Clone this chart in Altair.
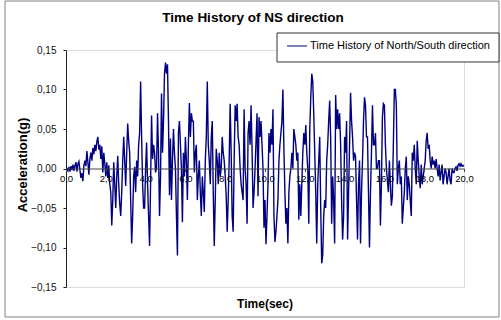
import altair as alt
import pandas as pd

# ---------------- data ----------------
dt = 0.05  # sample step of the record, seconds
accel = [
    0.000, 0.000, -0.003, 0.002, -0.004, 0.003, -0.002, 0.005, -0.003, 0.004,
    0.008, -0.004, 0.006, 0.009, -0.002, -0.012, -0.006, -0.016, 0.004, 0.010,
    0.003, 0.022, 0.008, -0.008, 0.012, 0.020, 0.010, 0.026, 0.018, 0.030,
    0.022, 0.034, 0.040, 0.024, 0.030, 0.012, 0.028, -0.005, 0.020, 0.006,
    -0.010, 0.008, -0.012, 0.004, -0.020, -0.030, -0.072, -0.040, 0.008, -0.020,
    -0.050, -0.010, 0.016, -0.020, -0.045, -0.060, -0.030, 0.010, 0.040, 0.010,
    -0.022, 0.020, 0.057, 0.035, 0.020, -0.040, -0.095, -0.060, -0.010, 0.002,
    -0.030, 0.010, -0.010, 0.030, 0.045, 0.110, 0.040, -0.020, -0.050, -0.050,
    0.000, 0.033, -0.020, -0.060, -0.098, -0.020, 0.067, 0.012, 0.030, 0.020,
    -0.005, 0.000, 0.070, 0.020, -0.060, -0.010, 0.095, 0.020, 0.060, 0.120,
    0.134, 0.120, 0.132, 0.060, -0.034, 0.038, -0.040, 0.010, 0.050, 0.020,
    0.000, -0.060, -0.110, 0.045, 0.060, 0.030, 0.000, -0.068, 0.020, -0.010,
    0.040, 0.010, -0.040, 0.030, 0.083, 0.040, 0.070, 0.060, 0.060, -0.005,
    0.020, 0.030, -0.040, -0.010, 0.010, -0.030, -0.060, -0.010, -0.030, -0.055,
    0.010, 0.040, 0.110, 0.030, 0.010, -0.020, 0.040, 0.060, -0.030, -0.098,
    -0.040, 0.025, 0.010, -0.020, 0.020, -0.010, 0.000, 0.040, 0.020, 0.010,
    -0.010, -0.035, -0.080, -0.040, 0.010, 0.082, 0.020, -0.060, -0.080, 0.010,
    0.080, 0.060, 0.082, 0.040, 0.030, 0.000, -0.020, -0.030, -0.040, 0.075,
    0.000, -0.020, -0.070, 0.045, 0.060, 0.030, 0.080, 0.025, -0.050, -0.030,
    0.000, 0.035, 0.070, -0.035, 0.065, 0.040, 0.060, 0.030, 0.000, -0.075,
    -0.040, -0.096, -0.060, -0.020, 0.045, 0.020, 0.050, 0.030, 0.075, -0.060,
    -0.093, -0.080, -0.060, -0.040, 0.010, 0.030, 0.045, 0.060, 0.100, 0.025,
    -0.030, -0.070, -0.050, -0.095, -0.030, -0.010, 0.000, 0.020, 0.000, 0.050,
    0.040, 0.030, 0.010, 0.020, -0.065, -0.020, -0.060, -0.020, 0.020, 0.045,
    0.030, 0.055, 0.020, 0.000, -0.070, 0.050, 0.090, 0.120, 0.110, 0.070,
    0.020, -0.030, -0.095, -0.020, 0.010, 0.040, -0.050, -0.120, -0.110, -0.060,
    -0.040, -0.050, 0.010, 0.030, 0.060, 0.086, 0.040, -0.070, -0.010, -0.040,
    -0.095, 0.093, 0.050, 0.075, 0.050, 0.070, 0.030, -0.040, -0.090, -0.060,
    0.040, 0.020, 0.060, -0.090, -0.030, 0.030, 0.096, 0.060, 0.040, 0.010,
    0.020, 0.015, -0.040, -0.090, -0.020, 0.010, -0.095, -0.030, 0.010, 0.060,
    0.090, 0.080, 0.040, 0.040, -0.030, -0.100, -0.030, 0.020, 0.080, 0.030,
    0.030, 0.045, 0.000, 0.000, 0.010, 0.010, -0.072, -0.020, 0.065, 0.082,
    0.080, 0.030, 0.000, -0.015, -0.030, 0.010, -0.020, -0.047, -0.035, 0.030,
    0.100, 0.100, 0.080, -0.020, 0.000, 0.010, -0.020, -0.010, -0.070, -0.050,
    -0.030, 0.000, 0.015, -0.040, -0.010, -0.020, -0.040, -0.060, 0.020, 0.010,
    0.030, 0.000, -0.020, 0.035, 0.010, -0.010, -0.025, 0.005, -0.020, -0.010,
    0.000, 0.010, 0.035, 0.045, 0.025, 0.030, 0.010, 0.000, 0.015, 0.005,
    0.010, 0.000, 0.012, 0.000, -0.010, 0.005, -0.015, -0.005, 0.005, -0.020,
    -0.010, 0.000, -0.005, -0.020, -0.010, 0.000, -0.015, -0.020, 0.000, -0.005,
    -0.005, 0.000, 0.002, -0.003, 0.004, 0.006, 0.003, 0.006, 0.003, 0.004,
    0.003,
]
time_s = [round(i * dt, 2) for i in range(len(accel))]

x_ticks = [0, 2, 4, 6, 8, 10, 12, 14, 16, 18, 20]
y_ticks = [-0.15, -0.10, -0.05, 0.0, 0.05, 0.10, 0.15]

title_text = "Time History of NS direction"
series_name = "Time History of North/South direction"
x_title = "Time(sec)"
y_title = "Acceleration(g)"

df = pd.DataFrame({"t": time_s, "a": accel})

W, H = 398, 237
FONT = "Liberation Sans"

line = alt.Chart(df).mark_line(color="#000080", strokeWidth=1.4).encode(
    x=alt.X(
        "t:Q",
        scale=alt.Scale(domain=[0, 20], nice=False, zero=False),
        axis=alt.Axis(
            values=x_ticks,
            labelExpr="replace(format(datum.value, '.1f'), '.', ',')",
            offset=-118.5,
            zindex=1,
            grid=False,
            title=None,
            tickSize=3,
            labelPadding=2,
            labelFontSize=9.5,
            labelFlush=False,
            domainColor="#444444",
            tickColor="#444444",
            labelColor="#000000",
        ),
    ),
    y=alt.Y(
        "a:Q",
        scale=alt.Scale(domain=[-0.15, 0.15], nice=False),
        axis=alt.Axis(
            values=y_ticks,
            labelExpr="replace(format(datum.value, '.2f'), '.', ',')",
            grid=False,
            title=None,
            tickSize=3,
            labelPadding=7,
            labelFontSize=10,
            domainColor="#222222",
            tickColor="#222222",
            labelColor="#111111",
        ),
    ),
)

one = alt.Data(values=[{"k": 0}])

border = alt.Chart(one).mark_rect(fill="transparent", stroke="#808080", strokeWidth=1).encode(
    x=alt.value(-61), x2=alt.value(433), y=alt.value(-49), y2=alt.value(267)
)

title = alt.Chart(one).mark_text(
    text=title_text, font=FONT, fontSize=13.5, fontWeight="bold", align="center", baseline="middle", color="black"
).encode(x=alt.value(187), y=alt.value(-32))

xt = alt.Chart(one).mark_text(
    text=x_title, font=FONT, fontSize=12, fontWeight="bold", align="center", baseline="middle", color="black"
).encode(x=alt.value(199), y=alt.value(254))

yt = alt.Chart(one).mark_text(
    text=y_title, font=FONT, fontSize=13, fontWeight="bold", align="center", baseline="middle", angle=270, color="black"
).encode(x=alt.value(-43), y=alt.value(115))

leg_box = alt.Chart(one).mark_rect(fill="white", stroke="#333333", strokeWidth=1).encode(
    x=alt.value(211), x2=alt.value(433), y=alt.value(-17), y2=alt.value(12)
)
leg_line = alt.Chart(one).mark_rule(color="#000080", strokeWidth=1).encode(
    x=alt.value(221), x2=alt.value(241), y=alt.value(-4)
)
leg_text = alt.Chart(one).mark_text(
    text=series_name, font=FONT, fontSize=11, align="left", baseline="middle", color="black"
).encode(x=alt.value(244), y=alt.value(-4))

chart = alt.layer(line, border, title, xt, yt, leg_box, leg_line, leg_text).properties(
    width=W,
    height=H,
    padding={"left": 66, "top": 50, "right": 37, "bottom": 33},
    autosize=alt.AutoSizeParams(type="none"),
).configure_view(stroke=None).configure(font=FONT, background="white")

chart.save("out.html", embed_options={"renderer": "svg", "actions": False})
